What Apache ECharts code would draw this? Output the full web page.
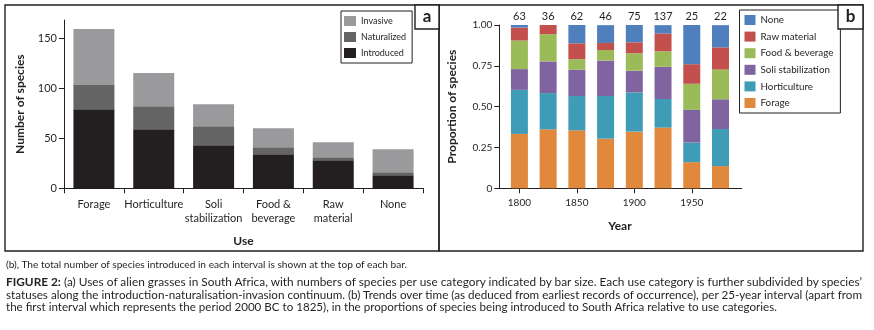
<!DOCTYPE html>
<html>
<head>
<meta charset="utf-8">
<script src="https://cdn.jsdelivr.net/npm/echarts@6/dist/echarts.min.js"></script>
<style>
  html, body { margin: 0; padding: 0; background: #fff; }
  #wrap { position: relative; width: 874px; height: 330px; overflow: hidden; }
  #chart { position: absolute; left: 0; top: 0; width: 874px; height: 330px; }
  .cap { position: absolute; left: 6px; white-space: nowrap; font-family: Lato, "Liberation Sans", sans-serif;
         color: #231f20; transform-origin: 0 50%; line-height: 12px; }
</style>
</head>
<body>
<div id="wrap">
  <div id="chart"></div>
  <div class="cap" id="c0" data-w="401" style="top:258px;font-size:10px">(b), The total number of species introduced in each interval is shown at the top of each bar.</div>
  <div class="cap" id="c1" data-w="856" style="top:276px;font-size:11px"><b>FIGURE 2:</b> (a) Uses of alien grasses in South Africa, with numbers of species per use category indicated by bar size. Each use category is further subdivided by species’</div>
  <div class="cap" id="c2" data-w="856" style="top:289px;font-size:11px">statuses along the introduction-naturalisation-invasion continuum. (b) Trends over time (as deduced from earliest records of occurrence), per 25-year interval (apart from</div>
  <div class="cap" id="c3" data-w="771" style="top:301px;font-size:11px">the first interval which represents the period 2000 BC to 1825), in the proportions of species being introduced to South Africa relative to use categories.</div>
</div>
<script>
// panneau a : usages
const useCats = ['Forage', 'Horticulture', 'Soli\nstabilization', 'Food &\nbeverage', 'Raw\nmaterial', 'None'];
const introduced = [79, 59, 43, 34, 28, 13];
const naturalized = [24, 23, 19, 7, 3, 3];
const invasive = [56, 33, 22, 19, 15, 23];
const countTicks = [0, 50, 100, 150];

// panneau b : proportions par intervalle
const years = ['1800', '1825', '1850', '1875', '1900', '1925', '1950', '1975'];
const totals = [63, 36, 62, 46, 75, 137, 25, 22];
const forage = [0.333, 0.361, 0.355, 0.304, 0.347, 0.372, 0.160, 0.136];
const horticulture = [0.270, 0.222, 0.210, 0.261, 0.240, 0.175, 0.120, 0.227];
const soliStab = [0.127, 0.194, 0.161, 0.217, 0.133, 0.197, 0.200, 0.182];
const foodBev = [0.175, 0.167, 0.065, 0.065, 0.107, 0.095, 0.160, 0.182];
const rawMat = [0.079, 0.056, 0.097, 0.043, 0.067, 0.109, 0.120, 0.136];
const noneUse = [0.016, 0.000, 0.113, 0.109, 0.107, 0.051, 0.240, 0.136];

const FONT = 'Lato';
const INK = '#231f20';

const chart = echarts.init(document.getElementById('chart'), null, { renderer: 'canvas' });

const axisLine = { show: true, lineStyle: { color: INK, width: 1 } };
const bold12 = { fontFamily: FONT, fontSize: 12, fontWeight: 'bold', color: INK };

function barB(name, data, color, extra) {
  return Object.assign({
    name: name, type: 'bar', stack: 'b', xAxisIndex: 2, yAxisIndex: 2,
    barWidth: 17, data: data, itemStyle: { color: color }
  }, extra || {});
}

const option = {
  animation: false,
  textStyle: { fontFamily: FONT },
  grid: [
    { left: 64, top: 20, width: 359, height: 168.3 },
    { left: 499.3, top: 25, width: 242.4, height: 163.3 },
    { left: 505.05, top: 25, width: 229.8, height: 163.3 }
  ],
  xAxis: [
    {
      type: 'category', gridIndex: 0, data: useCats,
      axisLine: axisLine,
      axisTick: { show: true, length: 5, interval: 0, lineStyle: { color: INK } },
      axisLabel: { interval: 0, fontSize: 11, lineHeight: 14, color: INK, margin: 9 },
      name: 'Use', nameLocation: 'middle', nameGap: 47, nameTextStyle: bold12
    },
    {
      type: 'value', gridIndex: 1, min: 0, max: 1,
      axisLine: axisLine, axisTick: { show: false }, axisLabel: { show: false }, splitLine: { show: false }
    },
    {
      type: 'category', gridIndex: 2, data: years,
      axisLine: { show: false },
      axisTick: { show: true, alignWithLabel: true, interval: 1, length: 5, lineStyle: { color: INK } },
      axisLabel: { interval: 1, fontSize: 10, color: INK, margin: 9 },
      name: 'Year', nameLocation: 'middle', nameGap: 32, nameTextStyle: bold12
    }
  ],
  yAxis: [
    {
      type: 'value', gridIndex: 0, min: 0, max: 168, interval: 50,
      axisLine: axisLine,
      axisTick: { show: true, length: 5, customValues: countTicks, lineStyle: { color: INK } },
      axisLabel: { fontSize: 11, color: INK, margin: 7, customValues: countTicks },
      splitLine: { show: false },
      name: 'Number of species', nameLocation: 'middle', nameGap: 38, nameRotate: 90, nameTextStyle: bold12
    },
    {
      type: 'value', gridIndex: 1, min: 0, max: 1, interval: 0.25,
      axisLine: axisLine,
      axisTick: { show: true, length: 5, lineStyle: { color: INK } },
      axisLabel: { fontSize: 10, color: INK, margin: 7, formatter: v => v === 0 ? '0' : v.toFixed(2) },
      splitLine: { show: false },
      name: 'Proportion of species', nameLocation: 'middle', nameGap: 41, nameRotate: 90, nameTextStyle: bold12
    },
    { type: 'value', gridIndex: 2, min: 0, max: 1, show: false }
  ],
  legend: [
    {
      data: ['Invasive', 'Naturalized', 'Introduced'],
      orient: 'vertical', left: 341, top: 11,
      itemWidth: 12, itemHeight: 10, itemGap: 6, icon: 'rect',
      padding: [5, 6, 5, 3],
      borderColor: INK, borderWidth: 1, borderRadius: 0,
      textStyle: { fontSize: 9, color: INK, fontFamily: FONT },
      selectedMode: false
    },
    {
      data: ['None', 'Raw material', 'Food & beverage', 'Soli stabilization', 'Horticulture', 'Forage'],
      orient: 'vertical', left: 739.5, top: 10,
      itemWidth: 11, itemHeight: 10, itemGap: 6.6, icon: 'rect',
      padding: [5, 7, 5, 5],
      borderColor: INK, borderWidth: 1, borderRadius: 0,
      textStyle: { fontSize: 9.8, color: INK, fontFamily: FONT },
      selectedMode: false
    }
  ],
  series: [
    { name: 'Introduced', type: 'bar', stack: 'a', barWidth: 41, data: introduced, itemStyle: { color: '#231f20' } },
    { name: 'Naturalized', type: 'bar', stack: 'a', barWidth: 41, data: naturalized, itemStyle: { color: '#646464' } },
    { name: 'Invasive', type: 'bar', stack: 'a', barWidth: 41, data: invasive, itemStyle: { color: '#9a9a9c' } },
    barB('Forage', forage, '#e0883b'),
    barB('Horticulture', horticulture, '#3e9cb6'),
    barB('Soli stabilization', soliStab, '#8064a2'),
    barB('Food & beverage', foodBev, '#9bbb59'),
    barB('Raw material', rawMat, '#c3504d'),
    barB('None', noneUse, '#4f7fbd', {
      label: {
        show: true, position: 'top', distance: 3, fontSize: 11, color: INK, fontFamily: FONT,
        formatter: p => String(totals[p.dataIndex])
      }
    })
  ],
  graphic: [
    { type: 'rect', shape: { x: 5, y: 5, width: 434, height: 246 }, style: { fill: 'none', stroke: INK, lineWidth: 1.4 }, z: 100 },
    { type: 'rect', shape: { x: 439, y: 5, width: 424, height: 246 }, style: { fill: 'none', stroke: INK, lineWidth: 1.4 }, z: 100 },
    { type: 'rect', shape: { x: 415, y: 5, width: 24, height: 24 }, style: { fill: '#fff', stroke: INK, lineWidth: 1.4 }, z: 100 },
    { type: 'rect', shape: { x: 838, y: 5, width: 25, height: 24 }, style: { fill: '#fff', stroke: INK, lineWidth: 1.4 }, z: 100 },
    { type: 'text', x: 427, y: 17, z: 101, style: { text: 'a', fontFamily: FONT, fontSize: 17, fontWeight: 'bold', fill: INK, align: 'center', verticalAlign: 'middle' } },
    { type: 'text', x: 850.5, y: 17, z: 101, style: { text: 'b', fontFamily: FONT, fontSize: 17, fontWeight: 'bold', fill: INK, align: 'center', verticalAlign: 'middle' } }
  ]
};

chart.setOption(option);

// ajuste la largeur des lignes de légende à celle de l'original
document.querySelectorAll('.cap').forEach(el => {
  const target = Number(el.dataset.w);
  const w = el.getBoundingClientRect().width;
  if (w > 0) el.style.transform = 'scaleX(' + (target / w).toFixed(4) + ')';
});
</script>
</body>
</html>
